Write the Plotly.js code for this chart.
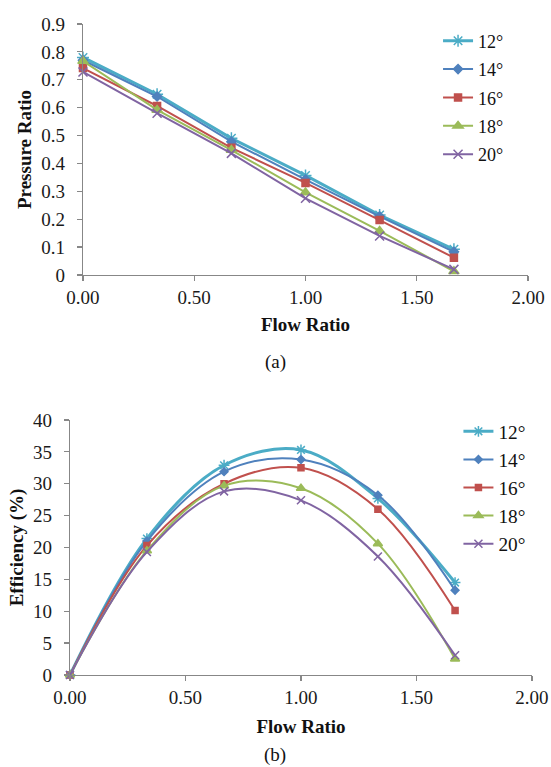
<!DOCTYPE html>
<html>
<head>
<meta charset="utf-8">
<script src="https://cdn.plot.ly/plotly-3.0.1.min.js"></script>
<style>
html,body{margin:0;padding:0;background:#fff;}
#chart{width:551px;height:767px;}
</style>
</head>
<body>
<div id="chart"></div>
<script>
// Data
const flowRatio = [0, 0.333, 0.667, 1.0, 1.333, 1.667];
const seriesNames = ["12°", "14°", "16°", "18°", "20°"];

const pressure12 = [0.78, 0.648, 0.49, 0.357, 0.215, 0.092];
const pressure14 = [0.77, 0.64, 0.478, 0.342, 0.21, 0.083];
const pressure16 = [0.742, 0.606, 0.456, 0.33, 0.197, 0.062];
const pressure18 = [0.767, 0.592, 0.448, 0.296, 0.158, 0.013];
const pressure20 = [0.728, 0.58, 0.436, 0.275, 0.14, 0.02];

const efficiency12 = [0, 21.4, 32.9, 35.3, 27.7, 14.5];
const efficiency14 = [0, 21.0, 31.9, 33.8, 28.2, 13.3];
const efficiency16 = [0, 20.3, 30.0, 32.5, 26.0, 10.1];
const efficiency18 = [0, 19.5, 29.7, 29.3, 20.6, 2.5];
const efficiency20 = [0, 19.3, 28.8, 27.4, 18.6, 3.1];

const xTickVals = [0, 0.5, 1.0, 1.5, 2.0];

// Styles
const colors = ["#4BACC6", "#4F81BD", "#C0504D", "#9BBB59", "#8064A2"];
const symbols = ["asterisk-open", "diamond", "square", "triangle-up", "x-thin-open"];
const msizes = [10, 7, 7, 9, 9];
const lwidths = [3, 2, 2, 2, 2];

const pressure = [pressure12, pressure14, pressure16, pressure18, pressure20];
const efficiency = [efficiency12, efficiency14, efficiency16, efficiency18, efficiency20];

const traces = [];
pressure.forEach((ys, i) => {
  traces.push({
    x: flowRatio, y: ys, name: seriesNames[i], type: "scatter", mode: "lines+markers",
    xaxis: "x", yaxis: "y", legend: "legend", legendgroup: "p" + i, cliponaxis: false,
    line: {color: colors[i], width: lwidths[i]},
    marker: {symbol: symbols[i], size: msizes[i], color: colors[i], line: {color: colors[i], width: 1.5}}
  });
});
efficiency.forEach((ys, i) => {
  traces.push({
    x: flowRatio, y: ys, name: seriesNames[i], type: "scatter", mode: "lines+markers",
    xaxis: "x2", yaxis: "y2", legend: "legend2", legendgroup: "e" + i, cliponaxis: false,
    line: {color: colors[i], width: lwidths[i], shape: "spline", smoothing: 1},
    marker: {symbol: symbols[i], size: msizes[i] - 1, color: colors[i], line: {color: colors[i], width: 1.5}}
  });
});

const FAM = "Liberation Serif";
const font = {family: FAM, size: 19, color: "#111"};
const axisCommon = {
  showline: true, linecolor: "#878787", linewidth: 1.2,
  ticks: "outside", ticklen: 5, tickcolor: "#878787", tickwidth: 1.2,
  showgrid: false, zeroline: false, fixedrange: true,
  tickfont: {family: FAM, size: 19, color: "#1a1a1a"}
};
const titleFont = {family: FAM, size: 19, color: "#111"};

const layout = {
  width: 551, height: 767,
  margin: {l: 0, r: 0, t: 0, b: 0},
  paper_bgcolor: "#fff", plot_bgcolor: "#fff",
  font: font,
  showlegend: true,
  xaxis: Object.assign({}, axisCommon, {
    domain: [0.1506, 0.9583], anchor: "y", range: [0, 2],
    tickvals: xTickVals, tickformat: ".2f",
    title: {text: "<b>Flow Ratio</b>", font: titleFont, standoff: 10}
  }),
  yaxis: Object.assign({}, axisCommon, {
    domain: [0.6415, 0.9687], anchor: "x", range: [0, 0.9], dtick: 0.1, tick0: 0,
    ticklabelstandoff: 8,
    title: {text: "<b>Pressure Ratio</b>", font: titleFont, standoff: 4}
  }),
  xaxis2: Object.assign({}, axisCommon, {
    domain: [0.127, 0.9655], anchor: "y2", range: [0, 2],
    tickvals: xTickVals, tickformat: ".2f",
    title: {text: "<b>Flow Ratio</b>", font: titleFont, standoff: 12}
  }),
  yaxis2: Object.assign({}, axisCommon, {
    domain: [0.12, 0.4524], anchor: "x2", range: [0, 40], dtick: 5, tick0: 0,
    ticklabelstandoff: 8,
    title: {text: "<b>Efficiency (%)</b>", font: titleFont, standoff: 4}
  }),
  legend: {
    x: 0.795, y: 0.9707, xanchor: "left", yanchor: "top",
    bgcolor: "rgba(0,0,0,0)", font: {family: FAM, size: 18, color: "#111"},
    tracegroupgap: 2, itemwidth: 30
  },
  legend2: {
    x: 0.832, y: 0.4625, xanchor: "left", yanchor: "top",
    bgcolor: "rgba(0,0,0,0)", font: {family: FAM, size: 19.3, color: "#111"},
    tracegroupgap: 0, itemwidth: 30
  },
  annotations: [
    {text: "(a)", xref: "paper", yref: "paper", x: 275/551, y: 1 - 362/767,
     xanchor: "center", yanchor: "middle",
     showarrow: false, font: {family: FAM, size: 19, color: "#111"}},
    {text: "(b)", xref: "paper", yref: "paper", x: 275/551, y: 1 - 755/767,
     xanchor: "center", yanchor: "middle",
     showarrow: false, font: {family: FAM, size: 19, color: "#111"}}
  ]
};

Plotly.newPlot("chart", traces, layout, {displayModeBar: false, staticPlot: true});
</script>
</body>
</html>
